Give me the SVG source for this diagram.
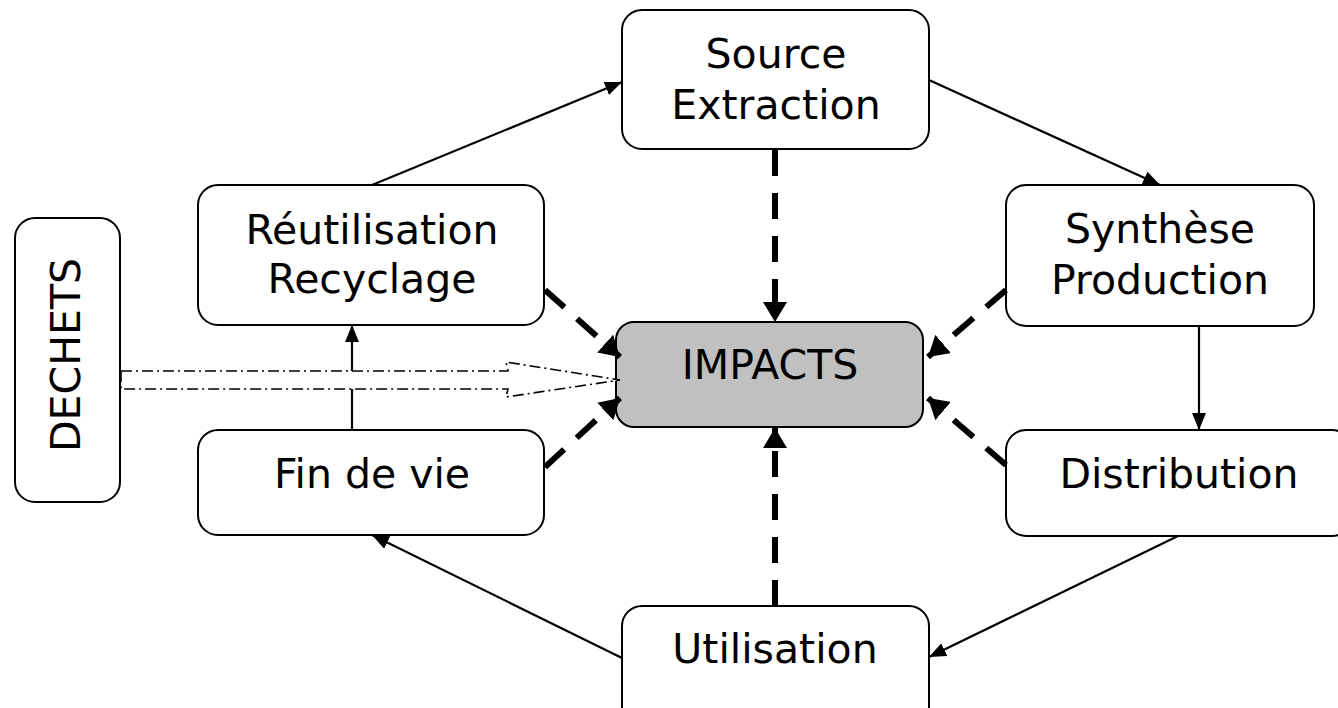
<svg xmlns="http://www.w3.org/2000/svg" width="1338" height="708" viewBox="0 0 1338 708">
  <style>
    .box { fill: #ffffff; stroke: #000000; stroke-width: 2; }
    .impact { fill: #c0c0c0; stroke: #000000; stroke-width: 2; }
    .lbl { font-family: "DejaVu Sans", Verdana, sans-serif; font-size: 41px; fill: #000000; text-anchor: middle; }
    .flow { fill: none; stroke: #000000; stroke-width: 2.2; marker-end: url(#arr); }
    .effect { fill: none; stroke: #000000; stroke-width: 6; stroke-dasharray: 26 17; marker-end: url(#arrBold); }
    .waste { fill: #ffffff; stroke: #000000; stroke-width: 1.6; stroke-dasharray: 11 4 2 4; }
  </style>
  <defs>
    <marker id="arr" markerUnits="userSpaceOnUse" markerWidth="18" markerHeight="14" refX="17" refY="7" orient="auto">
      <path d="M0,0 L17,7 L0,14 z" fill="#000000"/>
    </marker>
    <marker id="arrBold" markerUnits="userSpaceOnUse" markerWidth="22" markerHeight="24" refX="20" refY="12" orient="auto">
      <path d="M0,0 L20,12 L0,24 z" fill="#000000"/>
    </marker>
  </defs>

  <rect width="1338" height="708" fill="#ffffff"/>

  <!-- life-cycle stages -->
  <g id="source">
    <rect class="box" x="622" y="10" width="307" height="139" rx="20"/>
    <text class="lbl" x="776" y="68">Source</text>
    <text class="lbl" x="776" y="119">Extraction</text>
  </g>
  <g id="synthese">
    <rect class="box" x="1006" y="185" width="308" height="141" rx="20"/>
    <text class="lbl" x="1160" y="243">Synthèse</text>
    <text class="lbl" x="1160" y="294">Production</text>
  </g>
  <g id="distribution">
    <rect class="box" x="1006" y="430" width="346" height="106" rx="20"/>
    <text class="lbl" x="1179" y="488">Distribution</text>
  </g>
  <g id="utilisation">
    <rect class="box" x="622" y="606" width="307" height="130" rx="20"/>
    <text class="lbl" x="775" y="663">Utilisation</text>
  </g>
  <g id="fin-de-vie">
    <rect class="box" x="198" y="430" width="346" height="105" rx="20"/>
    <text class="lbl" x="372" y="488">Fin de vie</text>
  </g>
  <g id="reutilisation">
    <rect class="box" x="198" y="185" width="346" height="140" rx="20"/>
    <text class="lbl" x="372" y="244">Réutilisation</text>
    <text class="lbl" x="372" y="293">Recyclage</text>
  </g>
  <g id="impacts">
    <rect class="impact" x="616" y="322" width="307" height="105" rx="18"/>
    <text class="lbl" x="770" y="379">IMPACTS</text>
  </g>
  <g id="dechets">
    <rect class="box" x="15" y="218" width="105" height="284" rx="20"/>
    <text class="lbl" x="80" y="355" transform="rotate(-90 80 355)">DECHETS</text>
  </g>

  <!-- connectors -->
  <g id="connectors">
    <!-- cycle -->
    <line class="flow" x1="372" y1="185" x2="622" y2="82"/>
    <line class="flow" x1="929" y1="80" x2="1160" y2="185"/>
    <line class="flow" x1="1199" y1="326" x2="1199" y2="430"/>
    <line class="flow" x1="1178" y1="536" x2="929" y2="657"/>
    <line class="flow" x1="622" y1="658" x2="372" y2="535"/>
    <line class="flow" x1="352" y1="430" x2="352" y2="325"/>

    <!-- contributions to impacts -->
    <line class="effect" x1="775" y1="150" x2="775" y2="322"/>
    <line class="effect" x1="775" y1="606" x2="775" y2="428"/>
    <line class="effect" x1="545" y1="290" x2="620" y2="357"/>
    <line class="effect" x1="545" y1="467" x2="620" y2="398"/>
    <line class="effect" x1="1006" y1="290" x2="928" y2="357"/>
    <line class="effect" x1="1006" y1="465" x2="928" y2="398"/>

    <!-- waste stream -->
    <polygon class="waste" points="121,371 508,371 506,362 620,380 506,397 508,389 121,389"/>
  </g>
</svg>
